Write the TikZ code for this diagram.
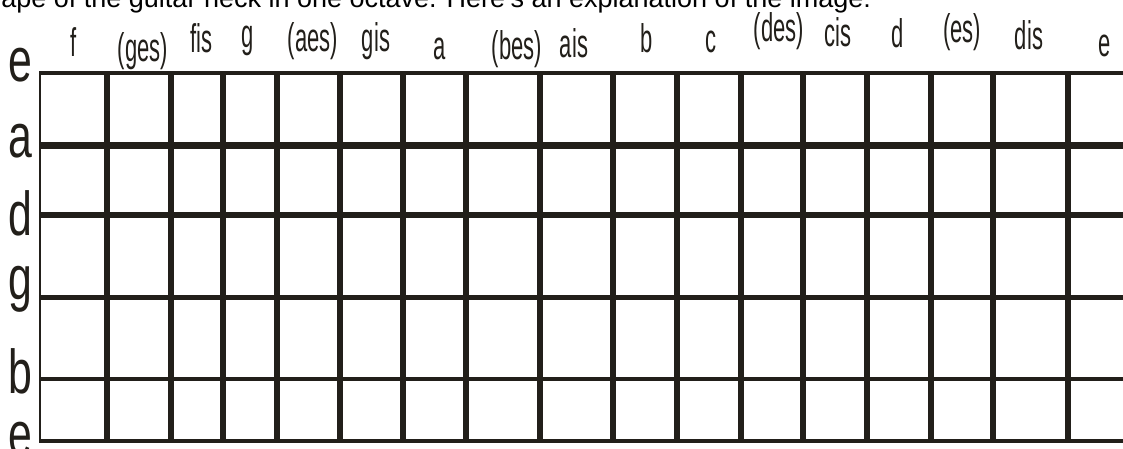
\documentclass[tikz,border=0pt]{standalone}
\usepackage{fontspec}
\setmainfont{Liberation Sans}
\usepackage{graphicx}
\definecolor{fretblack}{HTML}{221F1A}
\newcommand{\squeeze}[2]{\scalebox{#1}[1]{#2}}
\tikzset{
  fret/.style={draw=fretblack, line width=#1},
  fret/.default=3.3pt,
  notelbl/.style={
    anchor=base, inner sep=0pt, text=fretblack,
    font=\fontsize{20}{24}\selectfont
  },
  strlbl/.style={
    anchor=base east, inner sep=0pt, text=fretblack,
    font=\fontsize{31}{36}\selectfont
  },
  titlelbl/.style={anchor=base west, inner sep=0pt, font=\fontsize{13.5}{16}\selectfont},
}
\begin{document}
\begin{tikzpicture}[x=0.5pt, y=-0.5pt]
    \useasboundingbox (0,0) rectangle (1123,449);
    \clip (0,0) rectangle (1123,449);

    \node[titlelbl] (title) at (1,8)
      {ape of the guitar neck in one octave. Here's an explanation of the image:};

    % strings
    \foreach \y/\w in {73/2pt, 145/3.5pt, 215/3pt, 297/2.5pt, 379/2pt, 441/2.2pt}
      \draw[fret=\w] (39,\y) -- (1123,\y);

    % frets
    \draw[fret=1.2pt] (40,73) -- (40,441);
    \foreach \x in {107,171,223,277,340,403,466,540,613,677,741,803,867,931,993,1068}
      \draw[fret] (\x,73) -- (\x,441);

    % string names
    \foreach \y/\s [count=\i] in {82/e, 157/a, 235/d, 299/g, 393/b, 455/e}
      \node[strlbl] (str\i) at (33,\y) {\squeeze{0.69}{\s}};

    % note names
    \foreach \x/\y/\n [count=\i] in {74/57/f, 143/62/{(ges)}, 201/53/fis, 248/48/g,
        313/52/{(aes)}, 376/52/gis, 440/60/a, 517/60/{(bes)}, 574/58/ais,
        647/53/b, 711/53/c, 779/42/{(des)}, 838/47/cis, 898/48/d,
        962/43/{(es)}, 1029/50/dis, 1105/57/e}
      \node[notelbl] (note\i) at (\x,\y) {\squeeze{0.55}{\n}};
\end{tikzpicture}
\end{document}
